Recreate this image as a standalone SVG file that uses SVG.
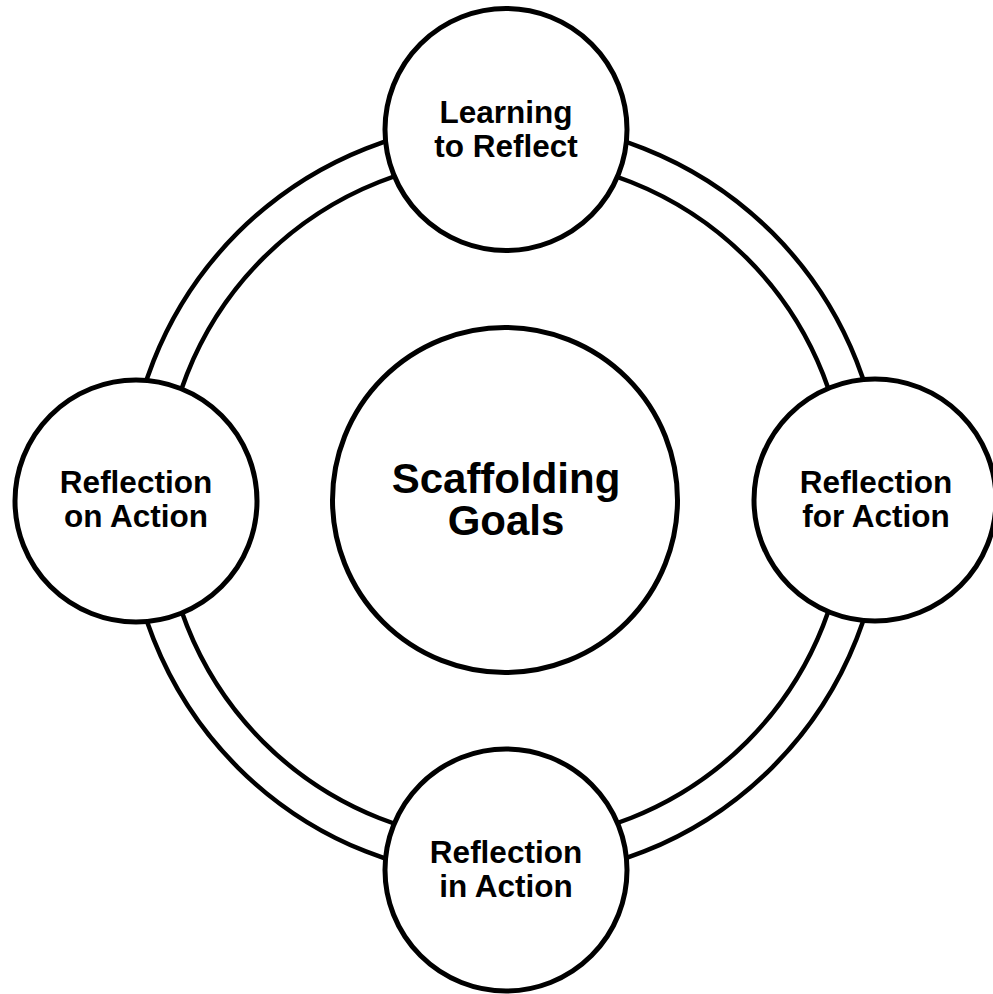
<svg xmlns="http://www.w3.org/2000/svg" width="993" height="994" viewBox="0 0 993 994">
<style>
.ring{fill:none;stroke:#000;stroke-width:4.5}
.node{fill:#fff;stroke:#000;stroke-width:5}
.lbl{font-family:"Liberation Sans",Arial,sans-serif;font-weight:bold;font-size:31.5px;fill:#000;text-anchor:middle}
.big{font-size:42px}
</style>
<rect width="993" height="994" fill="#fff"/>
<g id="connectors">
<circle class="ring" cx="505" cy="500" r="378"/>
<circle class="ring" cx="505" cy="500" r="342"/>
</g>
<g id="center">
<circle class="node" cx="505" cy="500" r="172.5"/>
<text class="lbl big" x="506" y="493">Scaffolding</text>
<text class="lbl big" x="506" y="535">Goals</text>
</g>
<g id="top">
<circle class="node" cx="506" cy="129.5" r="121"/>
<text class="lbl" x="506" y="123.3">Learning</text>
<text class="lbl" x="506" y="156.7">to Reflect</text>
</g>
<g id="left">
<circle class="node" cx="136" cy="501" r="121"/>
<text class="lbl" x="136" y="493.3">Reflection</text>
<text class="lbl" x="136" y="526.7">on Action</text>
</g>
<g id="right">
<circle class="node" cx="875" cy="500" r="121"/>
<text class="lbl" x="876" y="493.3">Reflection</text>
<text class="lbl" x="876" y="526.7">for Action</text>
</g>
<g id="bottom">
<circle class="node" cx="506" cy="870" r="121"/>
<text class="lbl" x="506" y="863.3">Reflection</text>
<text class="lbl" x="506" y="896.7">in Action</text>
</g>
</svg>
